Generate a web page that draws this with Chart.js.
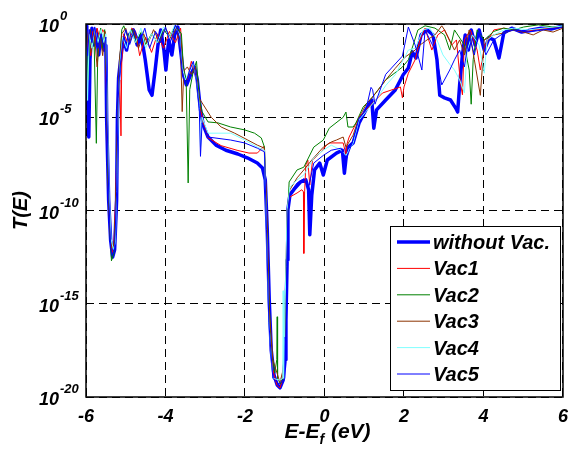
<!DOCTYPE html>
<html>
<head>
<meta charset="utf-8">
<script src="https://cdn.jsdelivr.net/npm/chart.js@4.4.1/dist/chart.umd.min.js"></script>
<style>
html, body { margin: 0; padding: 0; background: #fff; }
canvas { display: block; }
</style>
</head>
<body>
<canvas id="transChart" width="577" height="453"></canvas>
<script>
// series names as in the legend
var seriesNames = ['without Vac.', 'Vac1', 'Vac2', 'Vac3', 'Vac4', 'Vac5'];
var seriesColors = ['#0000ff', '#ff0000', '#008000', '#8c3300', '#80ffff', '#0000ff'];

var yTicks = [1e-20, 1e-15, 1e-10, 1e-5, 1];
var xTicks = [-6, -4, -2, 0, 2, 4, 6];

// without Vac. (thick)
var eNoVac = [-6.00,-5.98,-5.93,-5.90,-5.85,-5.80,-5.75,-5.68,-5.63,-5.55,-5.50,-5.48,-5.43,-5.38,-5.33,-5.28,-5.23,-5.21,-5.18,-5.13,
  -5.06,-4.98,-4.91,-4.81,-4.71,-4.61,-4.51,-4.41,-4.34,-4.26,-4.19,-4.12,-4.04,-3.99,-3.92,-3.84,-3.77,-3.69,-3.62,-3.55,
  -3.47,-3.37,-3.27,-3.20,-3.12,-3.05,-2.93,-2.73,-2.48,-2.18,-1.93,-1.69,-1.56,-1.49,-1.44,-1.39,-1.34,-1.27,-1.19,-1.12,
  -1.04,-0.99,-0.97,-0.94,-0.92,-0.87,-0.74,-0.60,-0.47,-0.40,-0.37,-0.32,-0.25,-0.12,-0.03,0.07,0.30,0.45,0.50,0.57,
  0.72,0.87,1.04,1.19,1.24,1.31,1.54,1.78,1.98,2.11,2.21,2.30,2.43,2.58,2.73,2.83,2.90,3.02,3.17,3.30,
  3.35,3.40,3.47,3.54,3.62,3.69,3.79,3.89,4.02,4.14,4.26,4.39,4.51,4.71,4.96,5.21,5.45,5.70,6.00];
var tNoVac = [0.78,1.2e-2,8.7e-7,1.2e-2,0.6,7.4e-2,0.48,2.2e-2,0.26,4e-2,7e-2,7e-6,3.6e-10,2.5e-12,3.2e-13,7.9e-13,3.6e-10,7e-6,1.3e-3,1.2e-2,
  0.18,4e-2,0.26,0.48,7.4e-2,0.26,1.2e-2,2.9e-4,1.5e-4,3.4e-3,7.4e-2,0.48,4e-2,3.4e-3,0.14,2.2e-2,0.26,0.69,4e-2,1.9e-3,
  5.4e-4,1.9e-3,4.9e-3,1e-3,2.5e-5,3.8e-6,8.7e-7,3.2e-7,1.7e-7,1.07e-7,6.5e-8,3.5e-8,1.9e-8,4.4e-9,9e-12,1.6e-15,3.2e-18,1.5e-19,4.4e-20,3.1e-20,
  8e-20,1e-18,1.3e-16,2.2e-13,1.1e-10,6.8e-10,1.6e-9,3.4e-9,4.4e-9,1.3e-9,5e-12,6.8e-10,1.5e-8,3.5e-8,8e-9,5.1e-8,1.2e-7,1.7e-7,1e-8,2.2e-7,
  4.2e-7,4.9e-6,2.5e-5,8.4e-5,2.6e-6,2.5e-5,8.4e-5,2.9e-4,1.9e-3,4.4e-3,3.2e-2,1.5e-2,0.26,0.48,0.26,1.2e-2,1.5e-4,1.1e-4,8.4e-5,3.1e-5,
  1.9e-5,5.4e-4,2.2e-2,0.26,4e-2,0.48,7.4e-2,0.48,4e-2,0.18,0.14,1.5e-2,0.33,0.6,0.37,0.48,0.6,0.54,0.78];

// Vac1
var eVac1 = [-6.00,-5.97,-5.93,-5.88,-5.83,-5.78,-5.72,-5.65,-5.58,-5.52,-5.48,-5.45,-5.40,-5.35,-5.30,-5.25,-5.20,-5.15,-5.12,-5.10,
  -5.05,-4.95,-4.85,-4.75,-4.65,-4.50,-4.35,-4.20,-4.05,-3.90,-3.75,-3.62,-3.55,-3.45,-3.35,-3.28,-3.20,-3.12,-3.05,-2.93,
  -2.60,-2.20,-1.90,-1.69,-1.52,-1.47,-1.43,-1.38,-1.30,-1.20,-1.12,-1.05,-1.00,-0.96,-0.93,-0.89,-0.69,-0.57,-0.53,-0.52,
  -0.50,-0.47,-0.42,-0.37,-0.30,-0.08,0.05,0.12,0.47,0.54,0.57,0.62,0.87,1.21,1.46,1.91,1.96,2.00,2.11,2.28,
  2.40,2.53,2.70,2.85,3.02,3.20,3.32,3.42,3.47,3.52,3.67,3.84,3.92,4.04,4.26,4.51,4.76,5.01,5.25,5.62,6.00];
var tVac1 = [0.5,0.05,0.3,0.02,0.4,0.1,0.6,0.15,0.5,0.3,1e-4,1e-8,1e-11,5e-13,1e-12,1e-9,1e-5,1e-3,1e-6,1e-2,
  0.3,0.1,0.6,0.4,0.02,0.2,0.03,0.3,0.05,0.4,0.1,0.6,2e-3,1e-3,1e-2,3e-3,1e-3,3e-5,5e-6,8e-7,
  3e-7,1.7e-7,1.2e-7,1.2e-7,2.8e-7,1e-9,1e-12,1e-16,3e-19,4.4e-20,3e-20,1e-19,1e-17,1e-13,1e-10,5e-10,8.7e-10,1.3e-9,1e-9,5e-13,
  1e-9,2.8e-8,5.1e-8,2.3e-9,5.1e-8,1.4e-7,3.2e-7,4.2e-7,4.2e-7,1e-7,4e-7,8.7e-7,1e-5,5.8e-5,2e-4,4.2e-4,1.1e-4,4.2e-4,2.3e-3,1.2e-2,
  0.14,0.6,4e-2,0.26,0.48,7.4e-2,0.14,7e-4,1.6e-4,0.14,0.48,4e-2,3.4e-3,7.4e-2,0.48,0.6,0.48,0.37,0.48,0.6,0.69];

// Vac2
var eVac2 = [-6.00,-5.95,-5.90,-5.85,-5.80,-5.74,-5.70,-5.63,-5.58,-5.53,-5.48,-5.45,-5.40,-5.36,-5.30,-5.25,-5.20,-5.15,-5.10,-5.05,
  -4.95,-4.85,-4.75,-4.60,-4.50,-4.35,-4.20,-4.05,-3.90,-3.75,-3.60,-3.55,-3.48,-3.43,-3.39,-3.30,-3.22,-3.15,-3.08,-2.93,
  -2.68,-2.36,-2.01,-1.76,-1.59,-1.51,-1.46,-1.41,-1.34,-1.25,-1.20,-1.19,-1.18,-1.11,-1.04,-0.99,-0.94,-0.89,-0.69,-0.52,
  -0.27,-0.03,0.12,0.47,0.54,0.59,0.72,0.79,0.97,1.21,1.54,1.96,2.11,2.23,2.35,2.53,2.78,3.02,3.15,3.27,
  3.52,3.64,3.69,3.74,3.84,4.02,4.26,4.51,4.76,5.01,5.38,5.75,6.00];
var tVac2 = [0.3,1e-3,0.5,0.05,0.3,4e-7,0.1,0.6,0.05,0.5,1e-3,1e-8,1e-11,2e-13,5e-13,1e-10,1e-5,1e-2,0.5,0.8,
  0.2,0.5,0.1,0.4,0.08,0.3,0.1,0.5,0.2,0.8,0.3,5e-3,1e-3,3e-9,3e-4,3e-3,1e-2,1e-4,2e-5,5.6e-6,
  5e-6,3e-6,2.1e-6,1.4e-6,7.8e-7,2.5e-7,1e-10,1e-14,3e-18,2e-19,1e-18,2e-16,1e-19,5e-20,1e-19,1e-16,1e-11,3.4e-9,1.5e-8,2.1e-8,
  2.5e-7,6e-7,2.6e-6,1e-5,1.9e-5,3e-6,3e-6,4.9e-6,3.5e-5,1.2e-4,1e-3,4.9e-3,1.2e-2,7.4e-2,0.48,0.8,0.6,0.26,4e-2,0.48,
  7.4e-2,3.4e-3,5e-5,1.2e-2,0.48,0.14,0.4,0.6,0.48,0.69,0.9,0.69,0.78];

// Vac3
var eVac3 = [-6.00,-5.95,-5.90,-5.87,-5.80,-5.72,-5.65,-5.58,-5.52,-5.47,-5.43,-5.38,-5.33,-5.28,-5.24,-5.20,-5.16,-5.10,-5.00,-4.90,
  -4.80,-4.68,-4.55,-4.45,-4.30,-4.15,-4.00,-3.85,-3.72,-3.62,-3.58,-3.54,-3.45,-3.35,-3.25,-3.17,-2.85,-2.60,-2.26,-1.93,
  -1.69,-1.51,-1.46,-1.40,-1.30,-1.12,-1.04,-0.99,-0.94,-0.87,-0.69,-0.52,-0.32,-0.03,0.17,0.30,0.47,0.54,0.72,0.87,
  1.04,1.29,1.54,1.78,2.03,2.28,2.40,2.58,2.78,2.95,3.02,3.27,3.40,3.52,3.64,3.77,3.92,4.02,4.26,4.51,
  4.76,5.01,5.25,5.50,5.75,6.00];
var tVac3 = [0.8,0.1,0.5,3e-2,0.5,5e-3,0.3,0.02,0.4,1e-4,1e-9,3e-12,1e-12,3e-12,1e-9,1e-5,1e-2,0.3,0.6,0.1,
  0.5,0.05,0.3,0.08,0.5,0.1,0.6,0.15,0.7,0.05,2e-5,3e-3,5e-3,2e-3,5e-3,1.2e-4,1e-5,3e-6,1.4e-6,6e-7,
  3.2e-7,2.2e-7,1e-10,1e-15,1e-18,6e-20,3e-19,1e-15,1e-10,1.3e-9,5.6e-9,1.5e-8,5.1e-8,2.5e-7,4.7e-7,6e-7,8.7e-7,2.5e-7,1.1e-6,1e-5,
  4.6e-5,2e-4,1e-3,4.2e-3,1.7e-2,4e-2,7.4e-2,0.14,0.26,0.8,0.48,4e-2,0.14,2.2e-2,0.48,1.2e-2,1.5e-4,0.14,0.26,0.33,
  0.48,0.37,0.26,0.48,0.37,0.6];

// Vac4
var eVac4 = [-6.00,-5.96,-5.92,-5.85,-5.78,-5.70,-5.62,-5.55,-5.50,-5.46,-5.42,-5.37,-5.31,-5.26,-5.22,-5.18,-5.14,-5.08,-4.98,-4.88,
  -4.75,-4.62,-4.50,-4.35,-4.20,-4.05,-3.90,-3.78,-3.65,-3.58,-3.50,-3.40,-3.30,-3.22,-3.15,-3.12,-3.08,-2.93,-2.36,-2.01,
  -1.69,-1.51,-1.46,-1.40,-1.30,-1.12,-1.05,-1.04,-1.02,-0.99,-0.94,-0.87,-0.69,-0.52,-0.27,-0.03,0.17,0.42,0.54,0.72,
  0.87,1.04,1.29,1.54,1.78,1.98,2.11,2.28,2.48,2.65,2.83,2.98,3.15,3.27,3.40,3.52,3.59,3.72,3.89,4.02,
  4.09,4.26,4.51,4.76,5.13,5.50,6.00];
var tVac4 = [0.5,8e-5,0.3,0.05,0.6,0.1,0.5,0.1,0.3,1e-5,1e-9,3e-12,8e-13,2e-12,1e-8,1e-4,1e-2,0.2,0.05,0.5,
  0.1,0.6,0.05,0.3,0.1,0.7,0.2,0.8,0.3,5e-3,1e-3,3e-3,8e-3,1e-3,5e-5,2.5e-7,1e-5,1.4e-6,1.4e-6,6e-7,
  2.5e-7,1.7e-7,1e-11,1e-16,1e-19,8e-20,1e-19,5e-15,1e-19,1e-15,1e-10,1.8e-9,4.4e-9,8e-9,6.5e-8,1.7e-7,3.2e-7,1.7e-7,9e-8,4.2e-7,
  7e-6,2e-5,8.4e-5,5e-4,1.9e-3,1.2e-2,4e-2,5e-2,0.48,0.6,0.14,2.2e-2,7e-3,3.4e-3,1e-3,2e-4,4e-2,0.26,7.4e-2,2.3e-3,
  0.14,0.26,0.48,0.6,0.48,0.6,0.78];

// Vac5
var eVac5 = [-6.00,-5.96,-5.92,-5.85,-5.78,-5.70,-5.62,-5.55,-5.50,-5.47,-5.43,-5.38,-5.34,-5.28,-5.23,-5.19,-5.15,-5.08,-5.00,-4.90,
  -4.78,-4.65,-4.52,-4.40,-4.25,-4.12,-4.00,-3.88,-3.75,-3.65,-3.58,-3.50,-3.40,-3.30,-3.22,-3.15,-3.12,-3.08,-2.93,-2.36,
  -2.01,-1.69,-1.51,-1.46,-1.40,-1.30,-1.14,-1.00,-0.99,-0.97,-0.95,-0.92,-0.87,-0.69,-0.52,-0.40,-0.27,-0.03,0.17,0.42,
  0.54,0.72,0.87,1.04,1.17,1.21,1.27,1.54,1.96,2.11,2.28,2.45,2.53,2.78,2.95,3.15,3.27,3.40,3.52,3.64,
  3.77,3.89,4.06,4.26,4.51,4.76,5.13,5.50,6.00];
var tVac5 = [0.7,0.02,0.5,0.1,0.7,0.05,0.3,0.05,0.2,1e-5,1e-9,1e-12,4e-13,1e-12,1e-9,1e-4,3e-3,0.1,0.5,0.08,
  0.5,0.1,0.6,0.05,0.4,0.1,0.7,0.1,0.9,0.2,3e-3,5e-4,3e-3,1e-2,1e-3,3e-5,8e-8,5e-6,8.7e-7,6e-7,
  4.2e-7,2.2e-7,1.4e-7,1e-11,1e-16,1e-19,5e-20,1e-19,1.6e-17,1e-17,1e-13,1e-10,8.7e-10,3e-9,5.1e-9,1.7e-9,3.5e-8,9e-8,1.7e-7,2.2e-7,
  4.9e-8,6e-7,9e-6,2.4e-5,4e-4,3e-4,5e-5,2e-3,1.9e-2,0.69,7.4e-2,3.4e-3,0.48,4e-2,5.4e-4,3.4e-3,1.2e-2,4e-2,5e-3,0.26,
  2.2e-2,0.4,2.2e-2,0.14,0.33,0.48,0.37,0.48,0.69];

var fam = 'Arial, "Liberation Sans", sans-serif';

function pairs(e, t) {
  return e.map(function(v, i) { return { x: v, y: t[i] }; });
}

var allE = [eNoVac, eVac1, eVac2, eVac3, eVac4, eVac5];
var allT = [tNoVac, tVac1, tVac2, tVac3, tVac4, tVac5];
var widths = [3.5, 1, 1, 1, 1, 1];

var datasets = seriesNames.map(function(name, i) {
  return {
    label: name,
    data: pairs(allE[i], allT[i]),
    borderColor: seriesColors[i],
    backgroundColor: seriesColors[i],
    borderWidth: widths[i],
    borderJoinStyle: 'round',
    showLine: true,
    pointRadius: 0,
    order: 6 - i
  };
});

// frame, y labels with exponents, axis titles, legend box
var decor = {
  id: 'decor',
  afterDraw: function(chart) {
    var ctx = chart.ctx, a = chart.chartArea;
    var ys = chart.scales.y;
    ctx.save();
    ctx.setLineDash([]);
    ctx.strokeStyle = '#000';
    ctx.lineWidth = 1.5;
    ctx.strokeRect(a.left, a.top, a.right - a.left, a.bottom - a.top);

    ctx.fillStyle = '#000';
    ctx.textAlign = 'left';
    ctx.textBaseline = 'alphabetic';
    yTicks.forEach(function(v) {
      var py = ys.getPixelForValue(v);
      var ex = String(Math.round(Math.log10(v)));
      ctx.font = 'italic bold 18px ' + fam;
      ctx.fillText('10', 39, py + 8);
      var w = ctx.measureText('10').width;
      ctx.font = 'italic bold 13px ' + fam;
      ctx.fillText(ex, 39 + w + 1, py - 4);
    });

    // y title
    ctx.save();
    ctx.translate(21, (a.top + a.bottom) / 2);
    ctx.rotate(-Math.PI / 2);
    ctx.textAlign = 'center';
    ctx.textBaseline = 'middle';
    ctx.font = 'italic bold 20px ' + fam;
    ctx.fillText('T(E)', 0, 0);
    ctx.restore();

    // x title with subscript
    ctx.font = 'italic bold 21px ' + fam;
    var w1 = ctx.measureText('E-E').width;
    var w3 = ctx.measureText(' (eV)').width;
    ctx.font = 'italic bold 14px ' + fam;
    var w2 = ctx.measureText('f').width + 1;
    var x0 = (a.left + a.right) / 2 + 3 - (w1 + w2 + w3) / 2;
    ctx.font = 'italic bold 21px ' + fam;
    ctx.fillText('E-E', x0, 438);
    ctx.font = 'italic bold 14px ' + fam;
    ctx.fillText('f', x0 + w1, 444);
    ctx.font = 'italic bold 21px ' + fam;
    ctx.fillText(' (eV)', x0 + w1 + w2, 438);

    // legend
    var bx = 390.5, by = 226.5, bw = 170, bh = 164;
    ctx.fillStyle = '#fff';
    ctx.fillRect(bx, by, bw, bh);
    ctx.strokeStyle = '#000';
    ctx.lineWidth = 1;
    ctx.strokeRect(bx, by, bw, bh);
    ctx.font = 'italic bold 20px ' + fam;
    chart.data.datasets.forEach(function(ds, i) {
      var ry = 242 + i * 26.4;
      ctx.strokeStyle = ds.borderColor;
      ctx.lineWidth = ds.borderWidth;
      ctx.beginPath();
      ctx.moveTo(397, ry);
      ctx.lineTo(430, ry);
      ctx.stroke();
      ctx.fillStyle = '#000';
      ctx.fillText(ds.label, 433, ry + 7);
    });
    ctx.restore();
  }
};

var tickFont = { family: fam, size: 18, style: 'italic', weight: 'bold' };

new Chart(document.getElementById('transChart'), {
  type: 'scatter',
  data: { datasets: datasets },
  options: {
    responsive: false,
    animation: false,
    layout: { autoPadding: false, padding: { left: 86, right: 6, top: 24, bottom: 20 } },
    plugins: {
      legend: { display: false },
      tooltip: { enabled: false }
    },
    scales: {
      x: {
        type: 'linear',
        min: -6,
        max: 6,
        afterBuildTicks: function(s) { s.ticks = xTicks.map(function(v) { return { value: v }; }); },
        afterFit: function(s) { s.height = 36; },
        ticks: { color: '#000', padding: 9, font: tickFont, maxRotation: 0 },
        grid: { color: '#000', lineWidth: 1, drawTicks: false },
        border: { display: false, dash: [8, 5] }
      },
      y: {
        type: 'logarithmic',
        min: 1e-20,
        max: 1,
        afterBuildTicks: function(s) { s.ticks = yTicks.map(function(v) { return { value: v }; }); },
        afterFit: function(s) { s.width = 0; },
        ticks: { display: false },
        grid: { color: '#000', lineWidth: 1, drawTicks: false },
        border: { display: false, dash: [8, 5] }
      }
    }
  },
  plugins: [decor]
});
</script>
</body>
</html>
